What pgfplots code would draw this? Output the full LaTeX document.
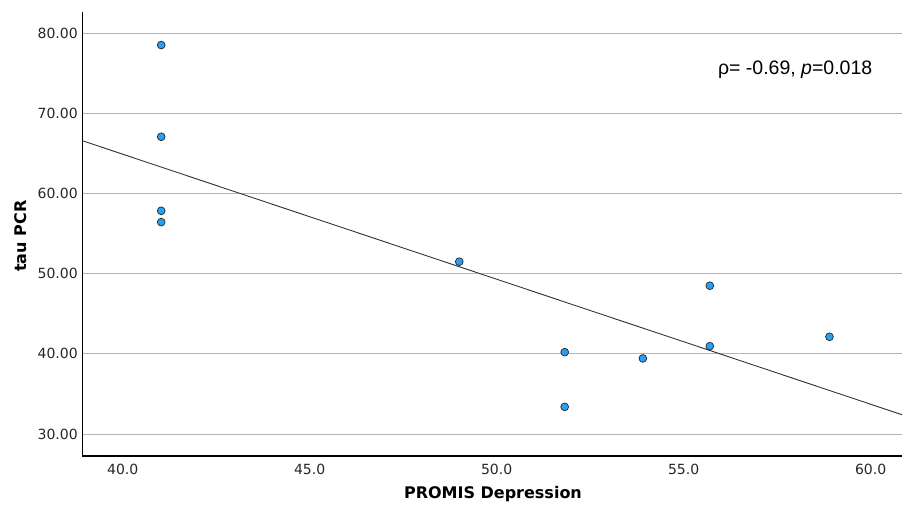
\documentclass[border=0pt]{standalone}
\usepackage{pgfplots}
\pgfplotsset{compat=1.18}
\usepackage{fontspec}
\setmainfont{DejaVu Sans}
\newfontfamily\arialfont{Liberation Sans}
\definecolor{ptblue}{HTML}{2A9DF4}
\definecolor{gridgray}{HTML}{B4B4B4}
\begin{document}
\begin{tikzpicture}[x=1pt,y=1pt]
\useasboundingbox (0,0) rectangle (902,510);
\begin{axis}[
  at={(82.3pt,54pt)}, anchor=south west,
  scale only axis, width=819.7pt, height=444.3pt,
  xmin=38.92, xmax=60.84, ymin=27.25, ymax=82.7,
  axis x line*=bottom, axis y line*=left,
  axis line style={black, line width=1.1pt, -},
  xtick={40,45,50,55,60}, ytick={30,40,50,60,70,80},
  major tick length=0pt,
  ymajorgrids, grid style={gridgray, line width=0.9pt},
  /pgf/number format/assume math mode=true,
  x tick label style={/pgf/number format/fixed, /pgf/number format/fixed zerofill, /pgf/number format/precision=1, yshift=-4.5pt},
  y tick label style={/pgf/number format/fixed, /pgf/number format/fixed zerofill, /pgf/number format/precision=2, xshift=-1pt},
  tick label style={font=\fontsize{14}{16}\selectfont, text=black!85},
  xlabel={PROMIS Depression}, ylabel={tau PCR},
  label style={font=\fontsize{16}{19}\selectfont\bfseries},
  xlabel style={at={(axis description cs:0.501,-0.085)}, anchor=center},
  ylabel style={at={(axis description cs:-0.075,0.495)}, anchor=center},
  clip=false,
]
\addplot[color=black!80, line width=0.9pt] coordinates {(38.92,66.6) (60.84,32.4)};
\addplot[only marks, mark=*, mark size=3.9pt, mark options={fill=ptblue, draw=black!85, line width=0.7pt}] coordinates {
(41.03,78.54) (41.03,67.09) (41.03,57.85) (41.03,56.44)
(49.0,51.5) (51.82,40.21) (51.82,33.38) (53.91,39.43)
(55.70,48.5) (55.70,40.96) (58.90,42.13)
};
\node[anchor=base east, inner sep=0pt, font=\arialfont\fontsize{19.5}{22}\selectfont] at (axis cs:60.05,74.92) {ρ= -0.69, \textit{p}=0.018};
\end{axis}
\end{tikzpicture}
\end{document}
